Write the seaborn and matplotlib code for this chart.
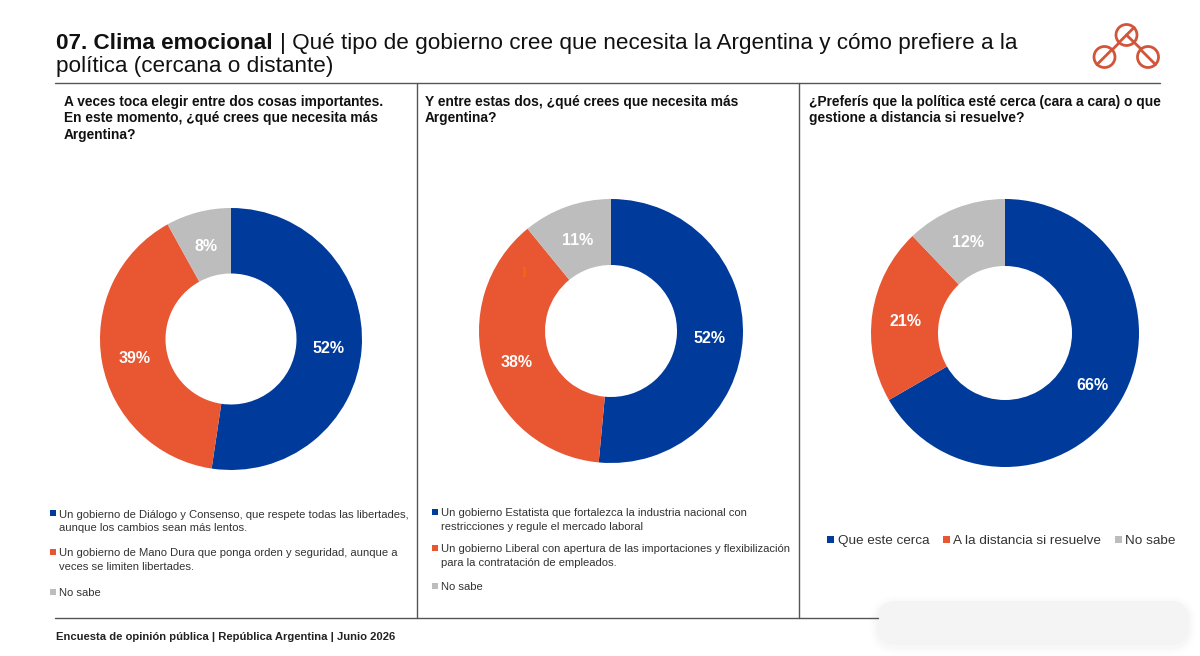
import matplotlib
matplotlib.use("Agg")
import matplotlib.pyplot as plt
from matplotlib.patches import Circle, FancyBboxPatch, Rectangle
import seaborn as sns

W, H = 1200, 656

# --- data ---
values_1 = [52.1, 39.4, 8.0]
values_2 = [52, 38, 11]
values_3 = [66, 21, 12]

questions = [
    "A veces toca elegir entre dos cosas importantes.\nEn este momento, ¿qué crees que necesita más\nArgentina?",
    "Y entre estas dos, ¿qué crees que necesita más\nArgentina?",
    "¿Preferís que la política esté cerca (cara a cara) o que\ngestione a distancia si resuelve?",
]
legend_1 = [
    "Un gobierno de Diálogo y Consenso, que respete todas las libertades,\naunque los cambios sean más lentos.",
    "Un gobierno de Mano Dura que ponga orden y seguridad, aunque a\nveces se limiten libertades.",
    "No sabe",
]
legend_2 = [
    "Un gobierno Estatista que fortalezca la industria nacional con\nrestricciones y regule el mercado laboral",
    "Un gobierno Liberal con apertura de las importaciones y flexibilización\npara la contratación de empleados.",
    "No sabe",
]
legend_3 = ["Que este cerca", "A la distancia si resuelve", "No sabe"]
footer = "Encuesta de opinión pública | República Argentina | Junio 2026"

BLUE, ORANGE, GRAY = "#003a9b", "#e85632", "#bdbdbd"
colors = [BLUE, ORANGE, GRAY]
LINE = "#555555"

sns.set_theme(style="white", palette=sns.color_palette(colors))
plt.rcParams["font.family"] = ["Liberation Sans", "DejaVu Sans"]

fig = plt.figure(figsize=(W / 100, H / 100), dpi=100, facecolor="white")


def donut(values, cx, cy, r):
    ax = fig.add_axes([(cx - r) / W, 1 - (cy + r) / H, 2 * r / W, 2 * r / H])
    wedges, labels = ax.pie(
        values,
        colors=colors,
        startangle=90,
        counterclock=False,
        radius=1,
        labels=[f"{round(v)}%" for v in values],
        labeldistance=0.75,
        wedgeprops={"width": 0.5, "linewidth": 0},
    )
    for t in labels:
        t.set_color("white")
        t.set_fontsize(11.5)
        t.set_fontweight("bold")
        t.set_horizontalalignment("center")
        t.set_verticalalignment("center")
        # nudge so the label sits where the slide has it
        t.set_y(t.get_position()[1] - 2.5 / r)
    ax.set_xlim(-1, 1)
    ax.set_ylim(-1, 1)
    return ax


donut(values_1, 231, 339, 131)
donut(values_2, 611, 331, 132)
donut(values_3, 1005, 333, 134)

# overlay in pixel coordinates for the slide furniture
top = fig.add_axes([0, 0, 1, 1], zorder=5)
top.set_xlim(0, W)
top.set_ylim(H, 0)
top.axis("off")

# small stray mark on the second donut
top.add_patch(Rectangle((522.5, 267), 3, 10, color="#e8690f", lw=0))

# title
top.text(56, 49, "07. Clima emocional", fontsize=16.2, fontweight="bold", color="#111111", va="baseline")
top.text(280, 49, "| Qué tipo de gobierno cree que necesita la Argentina y cómo prefiere a la",
         fontsize=16.2, color="#111111", va="baseline")
top.text(56, 72, "política (cercana o distante)", fontsize=16.2, color="#111111", va="baseline")

# rules
top.plot([55, 1160], [83, 83], color=LINE, lw=1)
top.plot([417, 417], [83, 618], color=LINE, lw=1)
top.plot([799, 799], [83, 618], color=LINE, lw=1)
top.plot([55, 878], [618, 618], color=LINE, lw=1)

# questions
for x, q in zip([64, 425, 809], questions):
    top.text(x, 95, q, fontsize=9.9, fontweight="bold", color="#111111", va="top", linespacing=1.22)

# long legends
for x, items, ys in [
    (59, legend_1, [513, 552, 592]),
    (441, legend_2, [512, 548, 586]),
]:
    for label, color, y in zip(items, colors, ys):
        top.add_patch(Rectangle((x - 9, y - 3), 5.5, 5.5, color=color, lw=0))
        top.text(x, y - 3.5, label, fontsize=8.1, color="#333333", va="top", linespacing=1.38)

# short legend of the third donut
for label, color, xm, xt in zip(legend_3, colors, [827, 943, 1115], [838, 953, 1125]):
    top.add_patch(Rectangle((xm, 536), 6.5, 6.5, color=color, lw=0))
    top.text(xt, 544, label, fontsize=9.7, color="#333333", va="baseline")

top.text(56, 637, footer, fontsize=8.1, fontweight="bold", color="#222222", va="center")

# logo
LOGO = "#d2553a"
for cx, cy, r, slash in [
    (1126.5, 35, 10.5, 1),
    (1104.5, 57, 10.5, 1),
    (1148, 57, 10.5, -1),
]:
    top.add_patch(Circle((cx, cy), r, fill=False, ec=LOGO, lw=2))
    d = r * 0.72
    top.plot([cx - d, cx + d], [cy + slash * d, cy - slash * d], color=LOGO, lw=2)
top.plot([1112, 1119], [50, 43], color=LOGO, lw=2)
top.plot([1126.5, 1141], [35, 49], color=LOGO, lw=2)

# rounded panel that covers the corner of the slide, soft shadow first
for grow, alpha in [(8, 0.004), (6, 0.006), (4, 0.008), (2, 0.012)]:
    top.add_patch(FancyBboxPatch(
        (897, 623), 272, 4, boxstyle=f"round,pad={20 + grow}",
        fc="black", ec="none", alpha=alpha,
    ))
top.add_patch(FancyBboxPatch(
    (897, 621), 272, 4, boxstyle="round,pad=20", fc="#f4f4f4", ec="none",
))

fig.savefig("out.png", dpi=100, facecolor="white")
